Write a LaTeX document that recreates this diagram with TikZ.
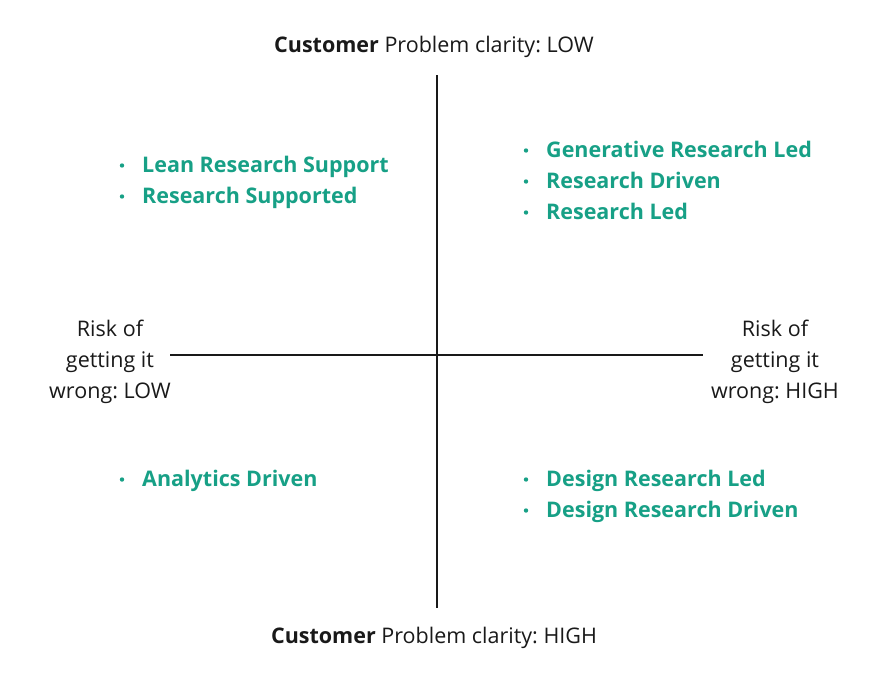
\documentclass[tikz,border=0pt]{standalone}
\usepackage{fontspec}
\setmainfont{Open Sans}
\usepackage{tikz}
\definecolor{teal}{HTML}{17A086}
\frenchspacing

\begin{document}
\begin{tikzpicture}
    [x=1pt, y=-1pt, axis/.style={line width=1.4pt, black!90}, lbl/.style={inner sep=0, font=\fontsize{21.5}{31}\selectfont, text=black!90}, item/.style={anchor=base west, inner sep=0, font=\fontsize{21.5}{31}\selectfont\bfseries, text=teal}, bul/.style={circle, fill=teal, inner sep=0, minimum size=4.4pt}]
    \useasboundingbox (0,0) rectangle (875,686);
    \begin{scope}
    \coordinate (n) at (437,75);
    \coordinate (s) at (437,608);
    \coordinate (w) at (170,355);
    \coordinate (e) at (703,355);
    \draw[axis] (n) -- (s);
    \draw[axis] (w) -- (e);
    \node[lbl, anchor=base] (top) at (434,52) {\textbf{Customer} Problem clarity: LOW};
    \node[lbl, anchor=base] (bot) at (434,643) {\textbf{Customer} Problem clarity: HIGH};
    \node[lbl, align=center] (lo) at (110,362) {Risk of\\getting it\\wrong: LOW};
    \node[lbl, align=center] (hi) at (775,362) {Risk of\\getting it\\wrong: HIGH};
    % low clarity, low risk
    \node[item] (lrs) at (142,172) {Lean Research Support};
    \node[item] (rsu) at (142,203) {Research Supported};
    % low clarity, high risk
    \node[item] (grl) at (546,157) {Generative Research Led};
    \node[item] (rdr) at (546,188) {Research Driven};
    \node[item] (rle) at (546,219) {Research Led};
    % high clarity, low risk
    \node[item] (adr) at (142,486) {Analytics Driven};
    % high clarity, high risk
    \node[item] (drl) at (546,486) {Design Research Led};
    \node[item] (drd) at (546,517) {Design Research Driven};
    \foreach \i in {lrs,rsu,grl,rdr,rle,adr,drl,drd}
        \node[bul] at ([xshift=-20pt, yshift=6.5pt]\i.base west) {};
    \end{scope}
\end{tikzpicture}
\end{document}
